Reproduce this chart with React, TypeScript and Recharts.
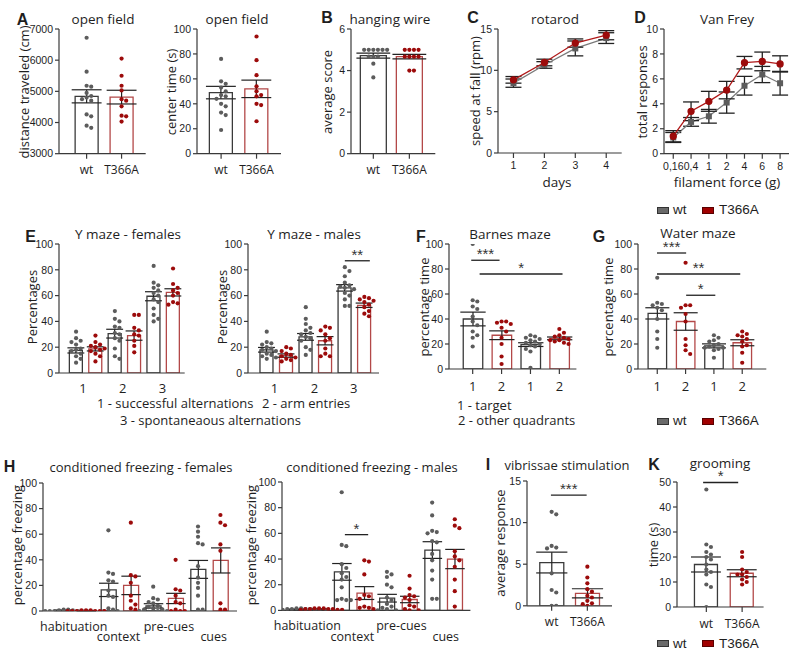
import React from "react";
import {
  ComposedChart,
  Bar,
  Cell,
  ErrorBar,
  Scatter,
  Line,
  XAxis,
  YAxis,
  ReferenceLine,
} from "recharts";

const SANS = '"Open Sans", "Noto Sans", sans-serif';
const ARIAL = '"Liberation Sans", Arial, sans-serif';
const TEXT = "#1e1e1e";
const AXIS = "#3a3a3a";
const ERR = "#222";
const WT_DOT = "#5c5c5c";
const KO_DOT = "#9c0b0b";
const WT_BAR = "#3a3a3a";
const KO_BAR = "#b34848";
const WT_LINE = "#7c7c7c";
const KO_LINE = "#b01a1a";

// ---- data ----
const genotypes = ["wt", "T366A"];

// A - open field
const distanceMean = [4840, 4815];
const distanceSem = [210, 220];
const distanceWt = [6720, 5630, 5180, 5150, 4950, 4850, 4800, 4750, 4700, 4260, 4200, 3900, 3830];
const distanceKo = [6050, 5500, 5180, 5030, 4750, 4700, 4520, 4220, 4200, 4030];
const centerMean = [49, 52];
const centerSem = [5, 7];
const centerWt = [76, 58, 56, 53, 50, 47, 46, 44, 40, 38, 33, 31, 19];
const centerKo = [94, 75, 63, 54, 50, 47, 46, 40, 39, 26];

// B - hanging wire
const wireMean = [4.72, 4.67];
const wireSem = [0.12, 0.11];
const wireWt = [5, 5, 5, 5, 5, 5, 4.67, 4.67, 4.67, 4.33, 3.67];
const wireKo = [5, 5, 5, 5, 4.67, 4.67, 4.67, 4.67, 4, 4];

// C - rotarod
const rotarodDays = [1, 2, 3, 4];
const rotarodWt = [8.45, 10.65, 12.65, 13.9];
const rotarodWtSem = [0.5, 0.4, 0.9, 0.65];
const rotarodKo = [8.85, 10.95, 13.3, 14.25];
const rotarodKoSem = [0.4, 0.4, 0.5, 0.55];

// D - Van Frey
const filaments = ["0,16", "0,4", "1", "2", "4", "6", "8"];
const vanFreyWt = [1.3, 2.55, 3.0, 4.1, 5.45, 6.35, 5.65];
const vanFreyWtSem = [0.4, 0.35, 0.55, 0.85, 0.75, 0.65, 0.95];
const vanFreyKo = [1.4, 3.4, 4.2, 5.1, 7.3, 7.4, 7.2];
const vanFreyKoSem = [0.45, 0.75, 0.8, 0.7, 0.5, 0.75, 0.65];

// E - Y maze (bars: wt, T366A for groups 1, 2, 3)
const yMazeGroups = ["1", "2", "3"];
const yMazeKinds = [0, 1, 0, 1, 0, 1];
const yMazeFemMean = [17.5, 18.7, 30.5, 29, 59.5, 62.5];
const yMazeFemSem = [2, 1.6, 3.4, 3.6, 3.5, 2.8];
const yMazeFemPoints = [
  [32, 27, 25, 24, 22, 19, 18, 17, 15, 13, 11, 8],
  [29, 24, 22, 21, 20, 19, 18, 17, 15, 13, 9],
  [48, 42, 40, 36, 35, 31, 30, 27, 25, 19, 13, 11],
  [45, 45, 35, 33, 30, 29, 25, 21, 16],
  [83, 70, 68, 66, 64, 62, 60, 57, 55, 50, 45, 42, 40],
  [81, 69, 66, 64, 62, 60, 55, 54, 53],
];
const yMazeMalMean = [18, 13.5, 28, 25, 66, 52.5];
const yMazeMalSem = [1.8, 1.3, 2.6, 3.2, 2.5, 1.7];
const yMazeMalPoints = [
  [32, 24, 23, 22, 20, 19, 18, 17, 15, 14, 13, 12, 11],
  [20, 19, 17, 15, 14, 13, 12, 11, 10, 9],
  [51, 42, 38, 35, 33, 31, 30, 28, 27, 25, 20, 18, 14],
  [36, 35, 33, 30, 27, 25, 19, 15, 13, 13],
  [82, 79, 75, 70, 68, 67, 66, 65, 62, 60, 57, 52, 52],
  [59, 58, 57, 56, 55, 53, 51, 48, 46, 44],
];

// F, G - Barnes / water maze (1 - target, 2 - other quadrants)
const mazeLabels = ["1", "2", "1", "2"];
const mazeKinds = [0, 1, 0, 1];
const barnesMean = [40, 27, 19.5, 24.5];
const barnesSem = [5.5, 3.5, 1.5, 1.1];
const barnesPoints = [
  [100, 55, 54, 50, 48, 42, 38, 35, 30, 27, 25, 18],
  [38, 38, 37, 36, 33, 30, 25, 20, 10, 4],
  [27, 26, 25, 24, 23, 22, 21, 20, 19, 18, 16, 14, 1],
  [32, 29, 27, 26, 25, 24, 23, 23, 22, 21, 20],
];
const waterMean = [44.5, 38, 18.5, 21];
const waterSem = [4.5, 7, 1.6, 2.4];
const waterPoints = [
  [73, 53, 52, 51, 49, 47, 40, 30, 24, 17],
  [85, 51, 51, 49, 44, 38, 24, 19, 15, 12],
  [27, 25, 23, 22, 20, 19, 18, 17, 17, 16, 15, 9],
  [30, 28, 27, 26, 24, 22, 19, 18, 13, 5],
];

// H - conditioned freezing
const phases = ["habituation", "context", "pre-cues", "cues"];
const freezeKinds = [0, 1, 0, 1, 0, 1, 0, 1];
const freezeFemMean = [0.5, 0.3, 16.5, 20, 4, 9.8, 32.5, 39.5];
const freezeFemSem = [0.15, 0.1, 5.2, 7.2, 1.7, 4, 7, 9.8];
const freezeFemPoints = [
  [1, 1, 0.5, 0.5, 0, 0, 0, 0, 0, 0, 0],
  [0.5, 0.5, 0.5, 0, 0, 0, 0, 0, 0],
  [63, 30, 29, 24, 23, 16, 12, 11, 2, 1, 0, 0],
  [69, 28, 27, 22, 12, 8, 5, 2, 1],
  [19, 10, 9, 7, 6, 4, 3, 2, 1, 1, 0, 0, 0],
  [40, 17, 16, 12, 7, 6, 1, 0, 0, 0],
  [66, 62, 58, 53, 52, 35, 26, 22, 18, 12, 1, 1],
  [75, 69, 67, 52, 47, 6, 1, 1],
];
const freezeMalMean = [0.7, 1, 30, 13.5, 9.5, 8.5, 47, 40];
const freezeMalSem = [0.2, 0.15, 6.5, 5, 3, 2.5, 6.5, 7.5];
const freezeMalPoints = [
  [1.5, 1.5, 1, 1, 1, 1, 0.5, 0.5, 0.5, 0, 0, 0],
  [1.5, 1.5, 1.5, 1, 1, 1, 1, 0.5, 0.5, 0.5],
  [92, 51, 50, 36, 33, 29, 26, 24, 18, 9, 8, 8, 8],
  [39, 38, 28, 12, 11, 9, 3, 2, 2, 1],
  [30, 28, 26, 20, 18, 10, 8, 5, 3, 2, 1, 0, 0],
  [27, 17, 12, 11, 10, 8, 4, 3, 1, 0, 0],
  [84, 74, 62, 61, 60, 54, 53, 44, 39, 31, 24, 9, 9],
  [71, 66, 64, 46, 42, 39, 34, 24, 15, 3],
];

// I - vibrissae stimulation
const vibrissaeMean = [5.2, 1.5];
const vibrissaeSem = [1.25, 0.55];
const vibrissaeWt = [11.3, 11, 7.2, 7, 6.9, 3.9, 1.9, 1.6, 0, 0];
const vibrissaeKo = [4.7, 3.4, 2.7, 2, 1.7, 1.2, 1, 0.6, 0.3, 0.2, 0];

// K - grooming
const groomingMean = [17, 13.5];
const groomingSem = [3, 1.4];
const groomingWt = [47, 25, 24, 22, 21, 20, 19, 17, 15, 14, 13, 9, 8, 0];
const groomingKo = [22, 20, 15, 14, 13, 13, 12, 11, 10, 9];

// ---- layout ----
const YW = 44;
const PT = 18;
const PR = 4;
const DOT_R = 2.1;
const DOT_GAP = 4.6;
const TICK_FONT = 10.5;

type Frame = { ax: number; top: number; bottom: number; right: number };
type Sig = { from: number; to: number; y: number; text: string };
type Row = { at: number[]; labels: string[] };

// spread the individual values sideways so the dots do not overlap
function swarm(values: number[], center: number, kx: number, ky: number, gap: number) {
  const placed: { px: number; py: number }[] = [];
  const out: { x: number; y: number }[] = [];
  const sorted = [...values].sort((a, b) => b - a);
  for (const v of sorted) {
    const py = v * ky;
    let px = 0;
    for (let k = 0; k < 40; k++) {
      const step = Math.ceil(k / 2) * gap * 0.5;
      const cand = k % 2 === 1 ? step : -step;
      const free = placed.every((p) => (p.px - cand) ** 2 + (p.py - py) ** 2 >= gap * gap);
      if (free) {
        px = cand;
        break;
      }
    }
    placed.push({ px, py });
    out.push({ x: center + px / kx, y: v });
  }
  return out;
}

const dotShape = (color: string) => (p: any) => <circle cx={p.cx} cy={p.cy} r={DOT_R} fill={color} />;

interface DotBarProps {
  frame: Frame;
  xDomain: [number, number];
  yDomain: [number, number];
  yTicks: number[];
  barSize: number;
  means: number[];
  sems: number[];
  points: number[][];
  kinds: number[];
  tickLabels?: string[];
  tickFont?: number;
  tickGap?: number;
  rows?: Row[];
  rowFont?: number;
  rowH?: number;
  sig?: Sig[];
}

function DotBarPanel({
  frame,
  xDomain,
  yDomain,
  yTicks,
  barSize,
  means,
  sems,
  points,
  kinds,
  tickLabels,
  tickFont = 12,
  tickGap = 7,
  rows,
  rowFont = 13,
  rowH = 15,
  sig = [],
}: DotBarProps) {
  const plotW = frame.right - frame.ax;
  const plotH = frame.bottom - frame.top;
  const kx = plotW / (xDomain[1] - xDomain[0]);
  const ky = plotH / (yDomain[1] - yDomain[0]);
  const positions = means.map((_, i) => i + 1);
  const data = means.map((m, i) => ({ x: i + 1, mean: m, sem: sems[i], kind: kinds[i] }));

  const wtPts: { x: number; y: number }[] = [];
  const koPts: { x: number; y: number }[] = [];
  points.forEach((vals, i) => {
    const placed = swarm(vals, i + 1, kx, ky, DOT_GAP);
    (kinds[i] === 0 ? wtPts : koPts).push(...placed);
  });

  const mainH = rows ? 6 : 5 + tickGap + 16;
  const rowsH = rows ? rows.length * rowH + 10 : 0;
  const width = YW + plotW + PR;
  const height = PT + plotH + mainH + rowsH;

  return (
    <div style={{ position: "absolute", left: frame.ax - YW, top: frame.top - PT }}>
      <ComposedChart width={width} height={height} data={data} margin={{ top: PT, right: PR, bottom: 0, left: 0 }}>
        <XAxis
          xAxisId={0}
          type="number"
          dataKey="x"
          domain={xDomain}
          ticks={positions}
          interval={0}
          allowDataOverflow
          stroke={AXIS}
          strokeWidth={1.2}
          tickSize={5}
          tickMargin={tickGap}
          height={mainH}
          tick={rows ? false : { fontSize: tickFont, fill: TEXT, fontFamily: SANS }}
          tickFormatter={(_v: any, i: number) => (tickLabels ? tickLabels[i] : "")}
        />
        {rows &&
          rows.map((r, j) => (
            <XAxis
              key={j}
              xAxisId={`r${j}`}
              type="number"
              dataKey="x"
              domain={xDomain}
              ticks={r.at}
              interval={0}
              allowDataOverflow
              axisLine={false}
              tickLine={false}
              tickSize={0}
              tickMargin={j === 0 ? 5 : 1}
              height={j === rows.length - 1 ? rowH + 6 : rowH}
              tick={{ fontSize: rowFont, fill: TEXT, fontFamily: SANS }}
              tickFormatter={(_v: any, k: number) => r.labels[k]}
            />
          ))}
        <XAxis xAxisId="pts" type="number" dataKey="x" domain={xDomain} allowDataOverflow hide height={0} />
        <YAxis
          type="number"
          domain={yDomain}
          ticks={yTicks}
          interval={0}
          allowDataOverflow
          width={YW}
          stroke={AXIS}
          strokeWidth={1.2}
          tickSize={4}
          tickMargin={2}
          tick={{ fontSize: TICK_FONT, fill: TEXT, fontFamily: ARIAL }}
        />
        <Bar dataKey="mean" barSize={barSize} isAnimationActive={false}>
          {data.map((d, i) => (
            <Cell key={i} fill="#fff" stroke={d.kind ? KO_BAR : WT_BAR} strokeWidth={1.3} />
          ))}
          <ErrorBar dataKey="sem" width={barSize * 0.65} stroke={ERR} strokeWidth={1.2} isAnimationActive={false} />
        </Bar>
        <Scatter xAxisId="pts" data={wtPts} dataKey="y" isAnimationActive={false} shape={dotShape(WT_DOT)} />
        <Scatter xAxisId="pts" data={koPts} dataKey="y" isAnimationActive={false} shape={dotShape(KO_DOT)} />
        {sig.map((s, i) => (
          <ReferenceLine
            key={i}
            segment={[
              { x: s.from, y: s.y },
              { x: s.to, y: s.y },
            ]}
            stroke="#222"
            strokeWidth={1.3}
            ifOverflow="visible"
            label={{ value: s.text, position: "top", fill: "#333", fontSize: 15, fontFamily: ARIAL, offset: 1 }}
          />
        ))}
      </ComposedChart>
    </div>
  );
}

interface LinePanelProps {
  frame: Frame;
  xDomain: [number, number];
  yDomain: [number, number];
  yTicks: number[];
  xs: number[];
  xLabels: string[];
  wt: number[];
  wtSem: number[];
  ko: number[];
  koSem: number[];
}

function LinePanel({ frame, xDomain, yDomain, yTicks, xs, xLabels, wt, wtSem, ko, koSem }: LinePanelProps) {
  const plotW = frame.right - frame.ax;
  const plotH = frame.bottom - frame.top;
  const data = xs.map((x, i) => ({ x, wt: wt[i], wtSem: wtSem[i], ko: ko[i], koSem: koSem[i] }));
  const xh = 24;
  const squareDot = (p: any) => (
    <rect key={`s${p.index}`} x={p.cx - 3} y={p.cy - 3} width={6} height={6} fill={WT_DOT} />
  );
  return (
    <div style={{ position: "absolute", left: frame.ax - YW, top: frame.top - PT }}>
      <ComposedChart
        width={YW + plotW + PR}
        height={PT + plotH + xh}
        data={data}
        margin={{ top: PT, right: PR, bottom: 0, left: 0 }}
      >
        <XAxis
          type="number"
          dataKey="x"
          domain={xDomain}
          ticks={xs}
          interval={0}
          allowDataOverflow
          stroke={AXIS}
          strokeWidth={1.2}
          tickSize={5}
          tickMargin={4}
          height={xh}
          tick={{ fontSize: TICK_FONT, fill: TEXT, fontFamily: ARIAL }}
          tickFormatter={(_v: any, i: number) => xLabels[i]}
        />
        <YAxis
          type="number"
          domain={yDomain}
          ticks={yTicks}
          interval={0}
          allowDataOverflow
          width={YW}
          stroke={AXIS}
          strokeWidth={1.2}
          tickSize={4}
          tickMargin={2}
          tick={{ fontSize: TICK_FONT, fill: TEXT, fontFamily: ARIAL }}
        />
        <Line dataKey="wt" stroke={WT_LINE} strokeWidth={1.3} dot={squareDot} isAnimationActive={false}>
          <ErrorBar dataKey="wtSem" width={8} stroke={ERR} strokeWidth={1.3} isAnimationActive={false} />
        </Line>
        <Line
          dataKey="ko"
          stroke={KO_LINE}
          strokeWidth={1.3}
          dot={{ r: 3, fill: KO_DOT, stroke: KO_DOT }}
          isAnimationActive={false}
        >
          <ErrorBar dataKey="koSem" width={8} stroke={ERR} strokeWidth={1.3} isAnimationActive={false} />
        </Line>
      </ComposedChart>
    </div>
  );
}

function Txt({
  x,
  y,
  text,
  size = 13,
  rotate = false,
  bold = false,
  font = SANS,
  left = false,
}: {
  x: number;
  y: number;
  text: string;
  size?: number;
  rotate?: boolean;
  bold?: boolean;
  font?: string;
  left?: boolean;
}) {
  return (
    <div
      style={{
        position: "absolute",
        left: x,
        top: y,
        transform: `translate(${left ? "0" : "-50%"}, -50%)${rotate ? " rotate(-90deg)" : ""}`,
        fontSize: size,
        fontFamily: font,
        fontWeight: bold ? 700 : 400,
        color: TEXT,
        whiteSpace: "pre",
        lineHeight: 1,
      }}
    >
      {text}
    </div>
  );
}

function GenotypeLegend({ y }: { y: number }) {
  const box = (x: number, fill: string, border: string) => (
    <div
      style={{
        position: "absolute",
        left: x,
        top: y - 3.5,
        width: 12,
        height: 7,
        background: fill,
        border: `1px solid ${border}`,
        boxSizing: "border-box",
      }}
    />
  );
  return (
    <>
      {box(657, "#6a6a6a", "#333")}
      <Txt x={673} y={y} text={genotypes[0]} size={13.5} font={ARIAL} left />
      {box(702, "#a00000", "#5a0000")}
      <Txt x={719} y={y} text={genotypes[1]} size={13.5} font={ARIAL} left />
    </>
  );
}

const pct = [0, 20, 40, 60, 80, 100];
const TS = 13.5;

export default function App() {
  return (
    <div style={{ position: "absolute", left: 0, top: 0, width: 790, height: 651, background: "#fff", overflow: "hidden" }}>
      {/* row 1 */}
      <DotBarPanel
        frame={{ ax: 59.3, top: 29.3, bottom: 154, right: 146 }}
        xDomain={[0.21, 2.69]}
        yDomain={[3000, 7000]}
        yTicks={[3000, 4000, 5000, 6000, 7000]}
        barSize={23}
        means={distanceMean}
        sems={distanceSem}
        points={[distanceWt, distanceKo]}
        kinds={[0, 1]}
        tickLabels={genotypes}
      />
      <DotBarPanel
        frame={{ ax: 197, top: 29.3, bottom: 154, right: 281 }}
        xDomain={[0.32, 2.69]}
        yDomain={[0, 100]}
        yTicks={pct}
        barSize={23}
        means={centerMean}
        sems={centerSem}
        points={[centerWt, centerKo]}
        kinds={[0, 1]}
        tickLabels={genotypes}
      />
      <DotBarPanel
        frame={{ ax: 350.7, top: 29.3, bottom: 154, right: 435 }}
        xDomain={[0.38, 2.72]}
        yDomain={[0, 6]}
        yTicks={[0, 2, 4, 6]}
        barSize={26}
        means={wireMean}
        sems={wireSem}
        points={[wireWt, wireKo]}
        kinds={[0, 1]}
        tickLabels={genotypes}
      />
      <LinePanel
        frame={{ ax: 498.3, top: 29.3, bottom: 153.3, right: 622 }}
        xDomain={[0.5, 4.5]}
        yDomain={[0, 15]}
        yTicks={[0, 5, 10, 15]}
        xs={rotarodDays}
        xLabels={rotarodDays.map(String)}
        wt={rotarodWt}
        wtSem={rotarodWtSem}
        ko={rotarodKo}
        koSem={rotarodKoSem}
      />
      <LinePanel
        frame={{ ax: 664, top: 29.3, bottom: 154, right: 789 }}
        xDomain={[-0.52, 6.5]}
        yDomain={[0, 10]}
        yTicks={[0, 2, 4, 6, 8, 10]}
        xs={filaments.map((_, i) => i)}
        xLabels={filaments}
        wt={vanFreyWt}
        wtSem={vanFreyWtSem}
        ko={vanFreyKo}
        koSem={vanFreyKoSem}
      />

      {/* row 2 */}
      <DotBarPanel
        frame={{ ax: 59.3, top: 244.3, bottom: 369.3, right: 185 }}
        xDomain={[0.12, 6.6]}
        yDomain={[0, 100]}
        yTicks={pct}
        barSize={13}
        means={yMazeFemMean}
        sems={yMazeFemSem}
        points={yMazeFemPoints}
        kinds={yMazeKinds}
        rows={[{ at: [1.35, 3.4, 5.45], labels: yMazeGroups }]}
      />
      <DotBarPanel
        frame={{ ax: 248, top: 244.3, bottom: 369.3, right: 379 }}
        xDomain={[0.04, 6.75]}
        yDomain={[0, 100]}
        yTicks={pct}
        barSize={13}
        means={yMazeMalMean}
        sems={yMazeMalSem}
        points={yMazeMalPoints}
        kinds={yMazeKinds}
        rows={[{ at: [1.4, 3.45, 5.45], labels: yMazeGroups }]}
        sig={[{ from: 5.0, to: 6.28, y: 87, text: "**" }]}
      />
      <DotBarPanel
        frame={{ ax: 449.3, top: 244.3, bottom: 369.3, right: 576.7 }}
        xDomain={[0.18, 4.59]}
        yDomain={[0, 100]}
        yTicks={pct}
        barSize={19.5}
        means={barnesMean}
        sems={barnesSem}
        points={barnesPoints}
        kinds={mazeKinds}
        tickLabels={mazeLabels}
        tickFont={13}
        tickGap={8}
        sig={[
          { from: 0.95, to: 1.93, y: 87, text: "***" },
          { from: 1.24, to: 4.11, y: 76, text: "*" },
        ]}
      />
      <DotBarPanel
        frame={{ ax: 637.7, top: 244.3, bottom: 369.3, right: 766 }}
        xDomain={[0.32, 4.85]}
        yDomain={[0, 100]}
        yTicks={pct}
        barSize={18.5}
        means={waterMean}
        sems={waterSem}
        points={waterPoints}
        kinds={mazeKinds}
        tickLabels={mazeLabels}
        tickFont={13}
        tickGap={8}
        sig={[
          { from: 0.99, to: 2.02, y: 92.8, text: "***" },
          { from: 0.99, to: 3.93, y: 76, text: "**" },
          { from: 2.02, to: 3.05, y: 59, text: "*" },
        ]}
      />

      {/* row 3 */}
      <DotBarPanel
        frame={{ ax: 42.7, top: 482.7, bottom: 606.7, right: 236.7 }}
        xDomain={[0.08, 8.74]}
        yDomain={[0, 100]}
        yTicks={pct}
        barSize={15}
        means={freezeFemMean}
        sems={freezeFemSem}
        points={freezeFemPoints}
        kinds={freezeKinds}
        rowFont={12.5}
        rowH={14.5}
        rows={[
          { at: [1.45, 5.7], labels: [phases[0], phases[2]] },
          { at: [3.45, 7.7], labels: [phases[1], phases[3]] },
        ]}
      />
      <DotBarPanel
        frame={{ ax: 282.3, top: 482.3, bottom: 606.7, right: 470.7 }}
        xDomain={[0.36, 8.69]}
        yDomain={[0, 100]}
        yTicks={pct}
        barSize={15}
        means={freezeMalMean}
        sems={freezeMalSem}
        points={freezeMalPoints}
        kinds={freezeKinds}
        rowFont={12.5}
        rowH={14.5}
        rows={[
          { at: [1.48, 5.64], labels: [phases[0], phases[2]] },
          { at: [3.47, 7.6], labels: [phases[1], phases[3]] },
        ]}
        sig={[{ from: 3.14, to: 4.17, y: 59, text: "*" }]}
      />
      <DotBarPanel
        frame={{ ax: 526.7, top: 480.7, bottom: 605.5, right: 611.7 }}
        xDomain={[0.31, 2.69]}
        yDomain={[0, 15]}
        yTicks={[0, 5, 10, 15]}
        barSize={24}
        means={vibrissaeMean}
        sems={vibrissaeSem}
        points={[vibrissaeWt, vibrissaeKo]}
        kinds={[0, 1]}
        tickLabels={genotypes}
        sig={[{ from: 0.98, to: 1.98, y: 13.3, text: "***" }]}
      />
      <DotBarPanel
        frame={{ ax: 676.7, top: 482.3, bottom: 607.3, right: 763.3 }}
        xDomain={[0.18, 2.6]}
        yDomain={[0, 50]}
        yTicks={[0, 10, 20, 30, 40, 50]}
        barSize={23}
        means={groomingMean}
        sems={groomingSem}
        points={[groomingWt, groomingKo]}
        kinds={[0, 1]}
        tickLabels={genotypes}
        sig={[{ from: 0.91, to: 1.89, y: 49.8, text: "*" }]}
      />

      {/* panel letters */}
      <Txt x={22.5} y={20} text="A" size={16} bold font={ARIAL} />
      <Txt x={327} y={18} text="B" size={16} bold font={ARIAL} />
      <Txt x={473} y={18} text="C" size={16} bold font={ARIAL} />
      <Txt x={640} y={18} text="D" size={16} bold font={ARIAL} />
      <Txt x={30.5} y={237} text="E" size={16} bold font={ARIAL} />
      <Txt x={421} y={237} text="F" size={16} bold font={ARIAL} />
      <Txt x={599} y={237} text="G" size={16} bold font={ARIAL} />
      <Txt x={9.5} y={467} text="H" size={16} bold font={ARIAL} />
      <Txt x={488} y={465} text="I" size={16} bold font={ARIAL} />
      <Txt x={654} y={465} text="K" size={16} bold font={ARIAL} />

      {/* titles */}
      <Txt x={103} y={20} text="open field" size={TS} />
      <Txt x={237} y={20} text="open field" size={TS} />
      <Txt x={390} y={20} text="hanging wire" size={TS} />
      <Txt x={555} y={20} text="rotarod" size={TS} />
      <Txt x={727} y={20} text="Van Frey" size={TS} />
      <Txt x={128} y={235} text="Y maze - females" size={TS} />
      <Txt x={314} y={235} text="Y maze - males" size={TS} />
      <Txt x={510} y={235} text="Barnes maze" size={TS} />
      <Txt x={698} y={234} text="Water maze" size={TS} />
      <Txt x={141} y={467} text="conditioned freezing - females" />
      <Txt x={372} y={467} text="conditioned freezing - males" />
      <Txt x={567} y={465} text="vibrissae stimulation" />
      <Txt x={720} y={464} text="grooming" size={TS} />

      {/* axis titles */}
      <Txt x={24} y={92} text="distance traveled (cm)" rotate />
      <Txt x={171} y={92} text="center time (s)" rotate />
      <Txt x={327} y={92} text="average score" rotate />
      <Txt x={475} y={91} text="speed at fall (rpm)" rotate />
      <Txt x={642} y={92} text="total responses" rotate />
      <Txt x={557} y={183} text="days" size={TS} />
      <Txt x={727} y={183} text="filament force (g)" size={TS} />
      <Txt x={32} y={307} text="Percentages" rotate />
      <Txt x={222} y={307} text="Percentages" rotate />
      <Txt x={423.5} y={307} text="percentage time" rotate />
      <Txt x={608} y={307} text="percentage time" rotate />
      <Txt x={17} y={545} text="percentage freezing" rotate />
      <Txt x={251} y={545} text="percentage freezing" rotate />
      <Txt x={500} y={543} text="average response" rotate />
      <Txt x={653} y={545} text="time (s)" rotate />

      {/* notes */}
      <Txt x={97} y={403} text="1 - successful alternations" left />
      <Txt x={262} y={403} text="2 - arm entries" left />
      <Txt x={120} y={420} text="3 - spontaneaous alternations" left />
      <Txt x={457} y={405} text="1 - target" left />
      <Txt x={458} y={420} text="2 - other quadrants" left />

      <GenotypeLegend y={210} />
      <GenotypeLegend y={421} />
      <GenotypeLegend y={643.5} />
    </div>
  );
}
